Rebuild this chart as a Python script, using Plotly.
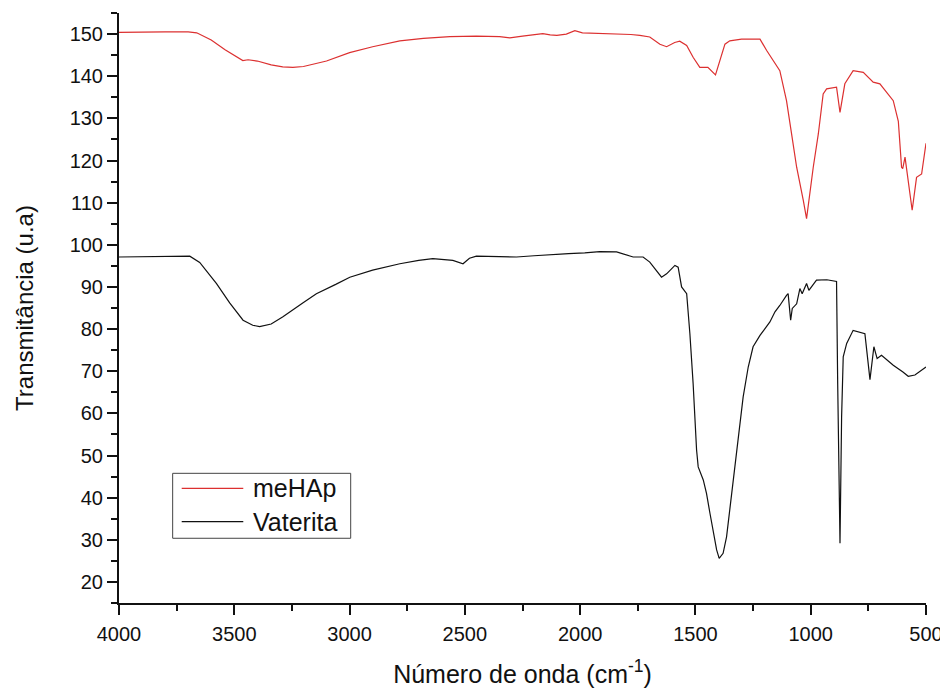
import plotly.graph_objects as go

# meHAp spectrum (red)
mehap_wn = [4000, 3900, 3800, 3700, 3663, 3600, 3540, 3463, 3440, 3400, 3340, 3290, 3246, 3200,
            3100, 3000, 2900, 2782, 2680, 2565, 2450, 2349, 2305, 2250, 2162, 2130, 2101, 2060,
            2023, 1990, 1915, 1850, 1780, 1741, 1698, 1654, 1625, 1590, 1568, 1538, 1510, 1481,
            1446, 1413, 1394, 1372, 1351, 1300, 1220, 1191, 1134, 1105, 1083, 1061, 1032, 1018,
            989, 967, 946, 931, 888, 873, 852, 816, 772, 729, 700, 642, 620, 606, 601, 591,
            560, 541, 519, 500]
mehap_t = [150.4, 150.5, 150.5, 150.5, 150.3, 148.6, 146.3, 143.7, 143.9, 143.6, 142.7, 142.2, 142.1, 142.3,
           143.6, 145.6, 147.0, 148.4, 149.0, 149.4, 149.5, 149.4, 149.1, 149.5, 150.1, 149.8, 149.7, 150.0,
           150.8, 150.3, 150.2, 150.1, 149.9, 149.7, 149.3, 147.6, 147.0, 148.0, 148.3, 147.3, 144.5, 142.1,
           142.1, 140.3, 143.7, 147.6, 148.4, 148.8, 148.8, 146.1, 141.3, 134.2, 126.3, 118.4, 110.5, 106.2,
           118.4, 126.3, 135.8, 137.0, 137.4, 131.4, 138.2, 141.3, 140.9, 138.6, 138.2, 134.2, 129.3, 118.4, 118.1, 120.8,
           108.2, 116.0, 116.8, 124.1]

# Vaterita spectrum (black)
vat_wn = [4000, 3900, 3800, 3693, 3650, 3577, 3520, 3462, 3420, 3390, 3340, 3289, 3200, 3144,
          3060, 2999, 2900, 2782, 2700, 2639, 2552, 2508, 2480, 2450, 2350, 2276, 2200, 2131,
          2050, 1980, 1915, 1842, 1770, 1727, 1698, 1647, 1625, 1589, 1575, 1560, 1538, 1524,
          1510, 1495, 1488, 1466, 1452, 1437, 1423, 1408, 1397, 1380, 1365, 1351, 1336, 1322,
          1307, 1293, 1271, 1250, 1220, 1177, 1155, 1134, 1105, 1098, 1087, 1080, 1061, 1047,
          1037, 1018, 1008, 975, 930, 888, 883, 873, 866, 859, 844, 816, 765, 757, 743, 726,
          712, 693, 642, 600, 577, 548, 520, 500]
vat_t = [97.1, 97.2, 97.3, 97.3, 95.8, 90.8, 86.2, 82.1, 80.9, 80.6, 81.2, 82.9, 86.3, 88.4,
         90.6, 92.3, 94.0, 95.5, 96.3, 96.7, 96.3, 95.5, 96.8, 97.3, 97.2, 97.1, 97.4, 97.7,
         97.9, 98.1, 98.4, 98.3, 97.1, 97.1, 95.9, 92.3, 93.1, 95.1, 94.7, 90.0, 88.4, 78.9,
         67.1, 51.3, 47.3, 44.2, 41.0, 36.3, 32.3, 27.6, 25.6, 26.8, 30.7, 37.1, 43.4, 51.3,
         57.6, 63.9, 71.0, 75.8, 78.5, 81.7, 84.1, 85.6, 88.0, 88.4, 82.1, 84.9, 86.0, 89.6,
         88.4, 90.8, 89.2, 91.6, 91.7, 91.3, 67.1, 29.2, 59.2, 73.4, 76.6, 79.7, 78.9, 75.0, 68.0, 75.8,
         73.0, 73.8, 71.4, 69.8, 68.8, 69.1, 70.2, 71.0]

series_names = ["meHAp", "Vaterita"]
series_colors = ["#dc3030", "#111111"]

x_ticks = [4000, 3500, 3000, 2500, 2000, 1500, 1000, 500]
y_ticks = list(range(20, 151, 10))

FONT = "Liberation Sans, Arial, sans-serif"

fig = go.Figure()
fig.add_trace(go.Scatter(x=mehap_wn, y=mehap_t, mode="lines", name=series_names[0],
                         line=dict(color=series_colors[0], width=1.2), showlegend=False))
fig.add_trace(go.Scatter(x=vat_wn, y=vat_t, mode="lines", name=series_names[1],
                         line=dict(color=series_colors[1], width=1.2), showlegend=False))

# Legend drawn as a framed box (Origin style)
shapes = [dict(type="rect", xref="paper", yref="paper", x0=0.0665, x1=0.2871, y0=0.1097, y1=0.2198,
               line=dict(color="#444444", width=1), fillcolor="white", layer="above")]
annotations = []
row_y = [0.1944, 0.1378]
for name, col, yy in zip(series_names, series_colors, row_y):
    shapes.append(dict(type="line", xref="paper", yref="paper", x0=0.0777, x1=0.1540, y0=yy, y1=yy,
                       line=dict(color=col, width=1.2), layer="above"))
    annotations.append(dict(text=name, xref="paper", yref="paper", x=0.1636, y=yy,
                            xanchor="left", yanchor="middle", showarrow=False,
                            font=dict(family=FONT, size=25, color="#111111")))

fig.update_layout(
    width=940, height=685,
    margin=dict(l=111, r=22, t=5, b=90),
    paper_bgcolor="white", plot_bgcolor="white",
    font=dict(family=FONT, color="#111111"),
    showlegend=False,
    shapes=shapes, annotations=annotations,
)
fig.update_xaxes(
    range=[4000, 500], tickvals=x_ticks, ticktext=[str(v) for v in x_ticks],
    automargin=False,
    showgrid=False, zeroline=False, showline=True, linecolor="#111111", linewidth=2,
    ticks="outside", ticklen=10, tickwidth=2, tickcolor="#111111",
    ticklabelstandoff=2,
    tickfont=dict(family=FONT, size=20, color="#111111"),
    minor=dict(ticks="outside", ticklen=6, tickwidth=2, tickcolor="#111111", dtick=250, tick0=500, showgrid=False),
    title=dict(text="Número de onda (cm<sup>-1</sup>)", font=dict(family=FONT, size=25, color="#111111"), standoff=21),
)
fig.update_yaxes(
    range=[15, 155], tickvals=y_ticks, ticktext=[str(v) for v in y_ticks],
    automargin=False,
    showgrid=False, zeroline=False, showline=True, linecolor="#111111", linewidth=2,
    ticks="outside", ticklen=10, tickwidth=2, tickcolor="#111111",
    tickfont=dict(family=FONT, size=20, color="#111111"),
    minor=dict(ticks="outside", ticklen=6, tickwidth=2, tickcolor="#111111", dtick=5, tick0=15, showgrid=False),
    title=dict(text="Transmitância (u.a)", font=dict(family=FONT, size=24, color="#111111"), standoff=29),
)

fig.write_html("out.html")
